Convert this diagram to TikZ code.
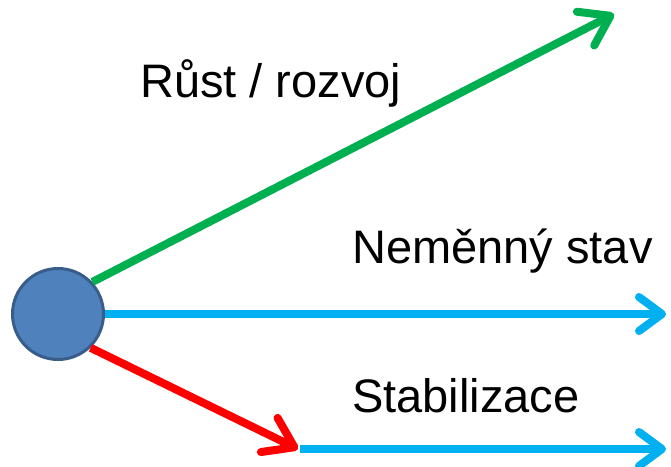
\documentclass[tikz,border=0pt]{standalone}
\usepackage{fontspec}
\setmainfont{Liberation Sans}
\usetikzlibrary{arrows.meta}
\definecolor{cfill}{HTML}{4F81BD}
\definecolor{cdraw}{HTML}{385D8A}
\definecolor{cgreen}{HTML}{00B050}
\definecolor{cblue}{HTML}{00B0F0}
\definecolor{cred}{HTML}{FF0000}
\tikzset{
  conn/.style={line width=8pt},
  bigtip/.style={-{Straight Barb[length=28pt,width=38pt,line cap=round,round]}},
  smalltip/.style={-{Straight Barb[length=23pt,width=34pt,line cap=round,round]}},
  lbl/.style={anchor=base west,inner sep=0pt,font=\fontsize{47}{56}\selectfont},
  origin/.style={circle,minimum size=91pt,inner sep=0pt,fill=cfill,draw=cdraw,line width=3pt}
}
\begin{document}
\begin{tikzpicture}[x=1pt,y=-1pt]
\useasboundingbox (0,0) rectangle (671,466);
\node[origin] (c) at (58,314) {};
\coordinate (gtip) at (614,14);
\coordinate (btip) at (666,314);
\coordinate (rtip) at (298,449);
\coordinate (bstart) at (300,449);
\coordinate (b2tip) at (666,449);
\draw[conn,cgreen,bigtip] (c.43) -- (gtip);
\draw[conn,cblue,smalltip] (c.east) -- (btip);
\draw[conn,cblue,smalltip] (bstart) -- (b2tip);
\draw[conn,cred,bigtip] (c.-46) -- (rtip);
\node[lbl] (t1) at (140,97) {Růst / rozvoj};
\node[lbl] (t2) at (352,263) {Neměnný stav};
\node[lbl] (t3) at (352,412) {Stabilizace};
\end{tikzpicture}
\end{document}
